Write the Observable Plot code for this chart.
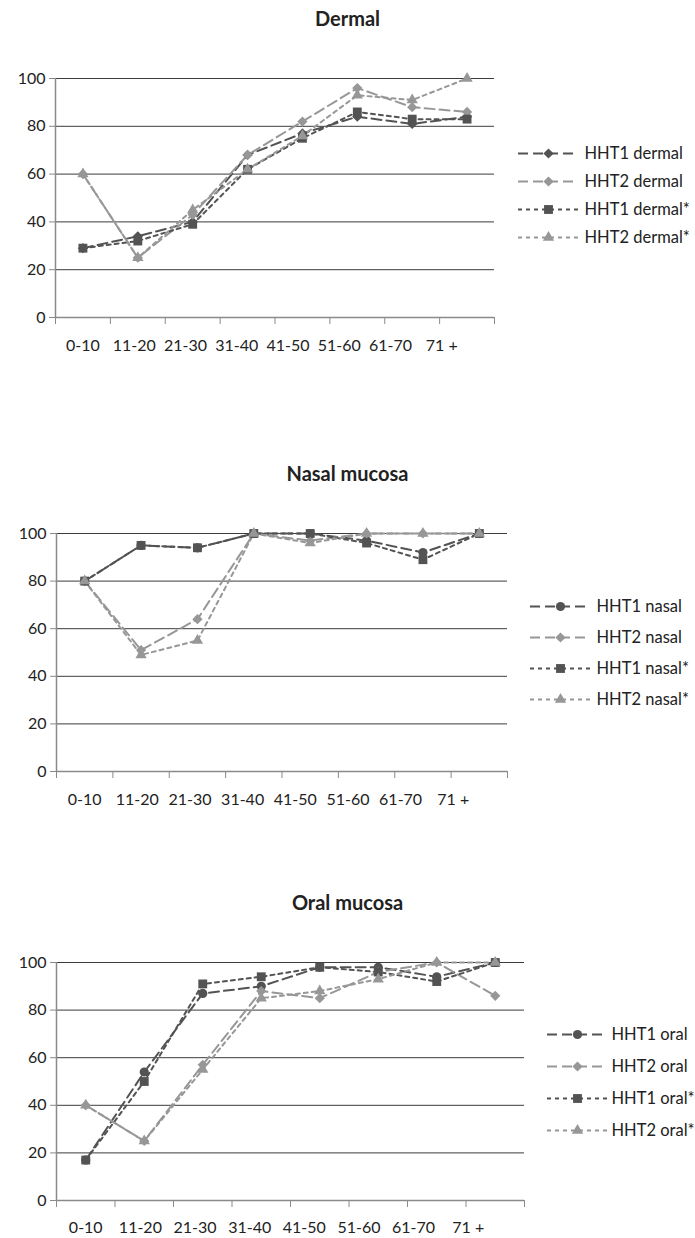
<!DOCTYPE html>
<html><head><meta charset="utf-8">
<script src="https://cdn.jsdelivr.net/npm/d3@7"></script>
<script src="https://cdn.jsdelivr.net/npm/@observablehq/plot@0.6"></script>
<style>
body{margin:0;background:#fff;}
#page{position:relative;width:695px;height:1238px;overflow:hidden;font-family:Lato,"Liberation Sans",sans-serif;}
#page svg.abs{position:absolute;left:0;}
</style></head><body><div id="page"></div>
<script>
// ---------- data ----------
const categories = ["0-10","11-20","21-30","31-40","41-50","51-60","61-70","71 +"];
const yTicks = [0,20,40,60,80,100];

const dermalTitle = "Dermal";
const dermalNames = ["HHT1 dermal","HHT2 dermal","HHT1 dermal*","HHT2 dermal*"];
const dermalHHT1      = [29, 34, 40, 68, 77, 84, 81, 84];
const dermalHHT2      = [60, 25, 43, 68, 82, 96, 88, 86];
const dermalHHT1star  = [29, 32, 39, 62, 75, 86, 83, 83];
const dermalHHT2star  = [60, 25, 45, 62, 76, 93, 91, 100];

const nasalTitle = "Nasal mucosa";
const nasalNames = ["HHT1 nasal","HHT2 nasal","HHT1 nasal*","HHT2 nasal*"];
const nasalHHT1      = [80, 95, 94, 100, 100, 97, 92, 100];
const nasalHHT2      = [80, 51, 64, 100, 97, 100, 100, 100];
const nasalHHT1star  = [80, 95, 94, 100, 100, 96, 89, 100];
const nasalHHT2star  = [80, 49, 55, 100, 96, 100, 100, 100];

const oralTitle = "Oral mucosa";
const oralNames = ["HHT1 oral","HHT2 oral","HHT1 oral*","HHT2 oral*"];
const oralHHT1      = [17, 54, 87, 90, 98, 98, 94, 100];
const oralHHT2      = [40, 25, 57, 88, 85, 96, 100, 86];
const oralHHT1star  = [17, 50, 91, 94, 98, 96, 92, 100];
const oralHHT2star  = [40, 25, 55, 85, 88, 93, 100, 100];

// ---------- styles ----------
const DARK = "#535353", LIGHT = "#979797";
const LONG = "10,5", SHORT = "4,4";
const LABEL_STEP = 0.934; // category labels in the original are laid out slightly tighter than the bands
const styleFor = (firstSymbol) => [
  {color: DARK,  dash: LONG,  symbol: firstSymbol, r: 4.6},
  {color: LIGHT, dash: LONG,  symbol: "diamond2", r: 4.6},
  {color: DARK,  dash: SHORT, symbol: "square",   r: 5},
  {color: LIGHT, dash: SHORT, symbol: "triangle", r: 4.2}
];
const FONT = "Lato, 'Liberation Sans', sans-serif";

const page = document.getElementById("page");

// titles overlay
const tsvg = d3.select(page).append("svg").attr("class","abs").style("top","0px")
  .attr("width",695).attr("height",1238);

function panel(cfg) {
  const styles = styleFor(cfg.firstSymbol);
  const rows = cfg.names.map((n, si) => cfg.values[si].map((v, i) => ({series: n, pos: i + 0.5, value: v})));
  const labelPos = categories.map((c, i) => 0.5 + i * LABEL_STEP);
  const marks = [
    Plot.ruleY(yTicks.filter(d => d > 0), {stroke: "#3c3c3c", strokeWidth: 1}),
    Plot.axisY({ticks: yTicks, tickSize: 6, tickPadding: 4, stroke: "#8a8a8a", fill: "#222", fontSize: 16, label: null}),
    Plot.axisX({ticks: d3.range(categories.length + 1), tickSize: 7, tickFormat: () => "", stroke: "#8a8a8a", label: null}),
    Plot.axisX({ticks: labelPos, tickSize: 0, tickPadding: cfg.labelPad,
      tickFormat: d => categories[labelPos.findIndex(p => Math.abs(p - d) < 1e-6)], fill: "#222", fontSize: 16, label: null}),
    Plot.ruleY([0], {stroke: "#8a8a8a", strokeWidth: 1.5}),
    Plot.ruleX([0], {stroke: "#8a8a8a", strokeWidth: 1.5})
  ];
  rows.forEach((r, si) => {
    const s = styles[si];
    marks.push(Plot.line(r, {x: "pos", y: "value", stroke: s.color, strokeWidth: 2, strokeDasharray: s.dash}));
  });
  rows.forEach((r, si) => {
    const s = styles[si];
    marks.push(Plot.dot(r, {x: "pos", y: "value", symbol: s.symbol, fill: s.color, r: s.r}));
  });
  const chart = Plot.plot({
    width: cfg.width, height: cfg.height,
    marginLeft: cfg.mLeft, marginRight: cfg.mRight, marginTop: cfg.mTop, marginBottom: cfg.mBottom,
    style: {fontFamily: FONT, fontSize: "16px", background: "transparent"},
    x: {domain: [0, categories.length], label: null},
    y: {domain: [0, 100], label: null},
    marks
  });
  chart.classList.add("abs");
  chart.style.top = cfg.top + "px";
  page.appendChild(chart);

  // legend
  const L = cfg.legend;
  const legend = Plot.plot({
    width: 695, height: L.height,
    marginLeft: L.x1, marginRight: 695 - L.x2, marginTop: 20, marginBottom: 20,
    style: {fontFamily: FONT, background: "transparent"},
    x: {domain: [0, 1], axis: null},
    y: {type: "point", domain: cfg.names, padding: 0, axis: null},
    marks: cfg.names.flatMap((n, si) => {
      const s = styles[si];
      return [
        Plot.ruleY([n], {y: d => d, stroke: s.color, strokeWidth: 2, strokeDasharray: s.dash}),
        Plot.dot([n], {y: d => d, symbol: s.symbol, fill: s.color, r: s.r}),
        Plot.text([n], {y: d => d, text: d => d, frameAnchor: "right", textAnchor: "start", dx: L.dx, fontSize: 16.5, fill: "#222"})
      ];
    })
  });
  legend.classList.add("abs");
  legend.style.top = L.top + "px";
  page.appendChild(legend);

  tsvg.append("text").attr("x", 347.5).attr("y", cfg.titleY).attr("text-anchor","middle")
    .attr("font-family", FONT).attr("font-weight","bold").attr("font-size",20).attr("fill","#222")
    .text(cfg.title);
}

panel({title: dermalTitle, titleY: 26, names: dermalNames, firstSymbol: "diamond2",
  values: [dermalHHT1, dermalHHT2, dermalHHT1star, dermalHHT2star],
  top: 60, width: 510, height: 297, mLeft: 55, mRight: 16, mTop: 18, mBottom: 40, labelPad: 22,
  legend: {top: 132, height: 125, x1: 518, x2: 578, dx: 6}});

panel({title: nasalTitle, titleY: 480.5, names: nasalNames, firstSymbol: "circle",
  values: [nasalHHT1, nasalHHT2, nasalHHT1star, nasalHHT2star],
  top: 500, width: 510, height: 311, mLeft: 56, mRight: 3, mTop: 33, mBottom: 40, labelPad: 22,
  legend: {top: 585, height: 135, x1: 530, x2: 590, dx: 6}});

panel({title: oralTitle, titleY: 909.5, names: oralNames, firstSymbol: "circle",
  values: [oralHHT1, oralHHT2, oralHHT1star, oralHHT2star],
  top: 930, width: 527, height: 308, mLeft: 56, mRight: 3, mTop: 32, mBottom: 38, labelPad: 21,
  legend: {top: 1013, height: 137, x1: 547, x2: 607, dx: 4}});
</script>
</body></html>
